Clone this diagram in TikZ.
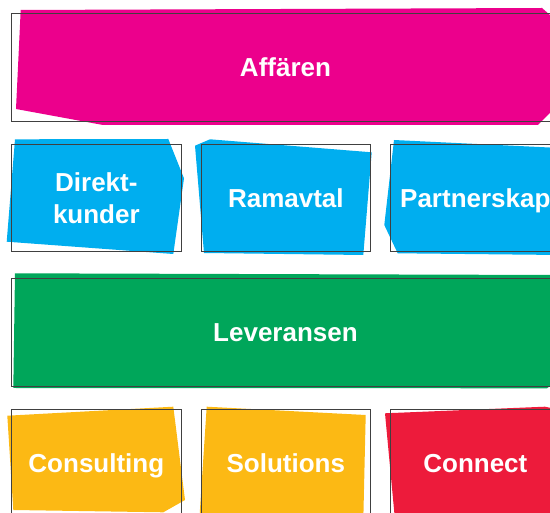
\documentclass[tikz,border=0pt]{standalone}
\usepackage{fontspec}
\setmainfont{Liberation Sans}
\definecolor{cmag}{RGB}{236,0,140}
\definecolor{cblue}{RGB}{0,174,239}
\definecolor{cgreen}{RGB}{0,166,90}
\definecolor{cyellow}{RGB}{252,185,20}
\definecolor{cred}{RGB}{237,27,59}
\tikzset{
  cellbox/.style={draw=black!75, line width=0.75pt, inner sep=0pt, text=white,
    font=\bfseries\fontsize{26}{32.3}\selectfont, minimum height=107.5pt},
  smallbox/.style={cellbox, minimum width=169.3pt},
  widebox/.style={cellbox, minimum width=547.6pt},
  oneline/.style={text height=18.6pt, text depth=0pt}
}
\begin{document}
\begin{tikzpicture}[x=1pt,y=-1pt]
\useasboundingbox (0,0) rectangle (550,513);
\clip (0,0) rectangle (550,513);
% coloured patches
\fill[cmag] (20.7,10) -- (542,8) -- (558,22) -- (558,105) -- (538,125) -- (103,125) -- (16,109) -- cycle;
\fill[cblue] (15,139.3) -- (168.3,139) -- (184,178.3) -- (173.3,254) -- (6.7,241.7) -- cycle;
\fill[cblue] (195,145.7) -- (210,139.3) -- (371.7,152.3) -- (363.3,255) -- (204,253) -- cycle;
\fill[cblue] (394,140) -- (560,148) -- (560,255) -- (397.7,253.3) -- (384.3,225) -- cycle;
\fill[cgreen] (15,273.3) -- (558,275) -- (558,380) -- (547,388.3) -- (13.3,388) -- cycle;
\fill[cyellow] (7.3,415.7) -- (173.3,406.7) -- (185,500) -- (163.3,512.3) -- (13.3,510) -- cycle;
\fill[cyellow] (206.7,406.7) -- (365.7,415) -- (363.3,520) -- (199.3,520) -- cycle;
\fill[cred] (385,413.3) -- (545,406.7) -- (560,410) -- (560,520) -- (395,520) -- cycle;
% framed labels
\node[widebox, oneline] (aff) at (285.5,67.2) {Affären};
\node[smallbox, align=center] (dir) at (96.35,198) {Direkt-\\kunder};
\node[smallbox, oneline] (ram) at (285.85,198) {Ramavtal};
\node[smallbox, oneline] (par) at (475.35,198) {Partnerskap};
\node[widebox, oneline] (lev) at (285.5,332.2) {Leveransen};
\node[smallbox, oneline] (con) at (96.35,463) {Consulting};
\node[smallbox, oneline] (sol) at (285.85,463) {Solutions};
\node[smallbox, oneline] (cnt) at (475.35,463) {Connect};
\end{tikzpicture}
\end{document}
